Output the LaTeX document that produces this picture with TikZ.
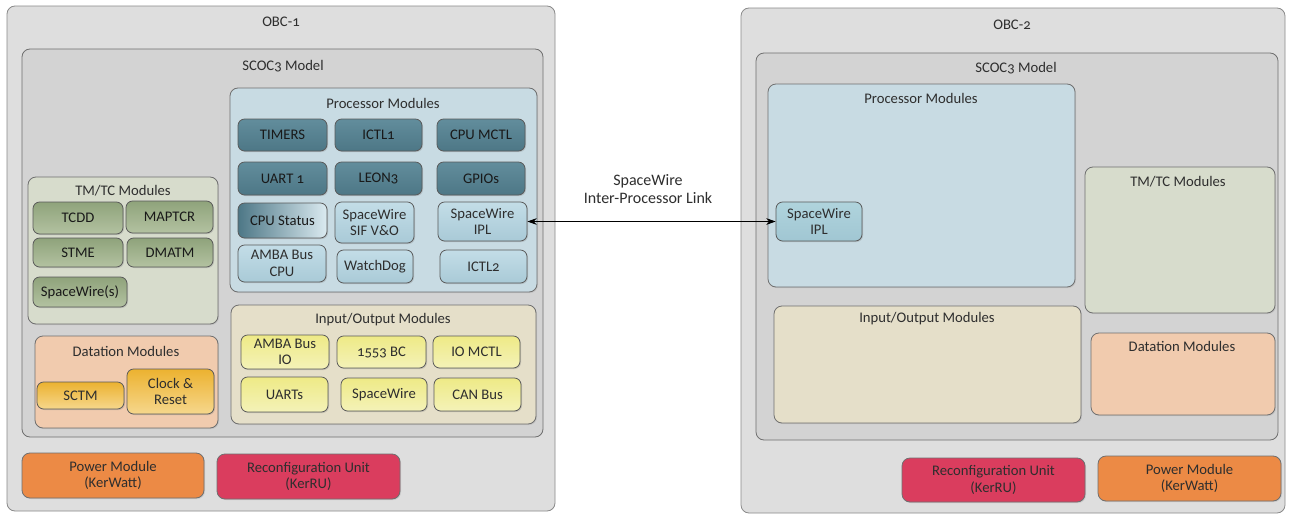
\documentclass[tikz,border=0pt]{standalone}
\usepackage{fontspec}
\setmainfont{Carlito}[Numbers=OldStyle]
\usetikzlibrary{shadows,arrows.meta}
\definecolor{obcfill}{HTML}{DEDEDE}
\definecolor{obcdraw}{HTML}{8A8A8A}
\definecolor{scocfill}{HTML}{D3D3D3}
\definecolor{procfill}{HTML}{C8DBE3}
\definecolor{tealtop}{HTML}{628D9C}
\definecolor{tealbot}{HTML}{4D7786}
\definecolor{lbtop}{HTML}{C3DDE7}
\definecolor{lbbot}{HTML}{A9CAD7}
\definecolor{tmtcfill}{HTML}{D7DCCC}
\definecolor{grntop}{HTML}{8FA37B}
\definecolor{grnbot}{HTML}{B3C2A1}
\definecolor{datfill}{HTML}{F1CBAE}
\definecolor{goldtop}{HTML}{ECB230}
\definecolor{goldbot}{HTML}{F6D78C}
\definecolor{iofill}{HTML}{E5DFC9}
\definecolor{yeltop}{HTML}{EEEA86}
\definecolor{yelbot}{HTML}{F4F2B8}
\definecolor{powfill}{HTML}{EC8A45}
\definecolor{recfill}{HTML}{DA3D5E}
\definecolor{txt}{HTML}{2E2E2E}
\definecolor{edge}{HTML}{6F6F6F}
\tikzset{
  base/.style={inner sep=0pt, align=center, font=\fontsize{11}{12.5}\selectfont, text=txt},
  obcbox/.style={base, draw=obcdraw, fill=obcfill, rounded corners=6pt, line width=0.6pt},
  scocbox/.style={base, draw=edge, fill=scocfill, rounded corners=6pt, line width=0.6pt},
  grp/.style={base, draw=edge, rounded corners=6pt, line width=0.6pt, drop shadow={opacity=0.2, shadow xshift=0.8pt, shadow yshift=-0.8pt}},
  mod/.style={base, draw=edge!80!black, rounded corners=5pt, line width=0.6pt, drop shadow={opacity=0.3, shadow xshift=0.8pt, shadow yshift=-0.8pt}},
  dark/.style={mod, top color=tealtop, bottom color=tealbot, text=black!90},
  light/.style={mod, top color=lbtop, bottom color=lbbot},
  green/.style={mod, top color=grntop, bottom color=grnbot, text=black!90},
  gold/.style={mod, top color=goldtop, bottom color=goldbot},
  yel/.style={mod, top color=yeltop, bottom color=yelbot},
  ttl/.style={base},
  link/.style={{Stealth[length=7pt,width=5pt]}-{Stealth[length=7pt,width=5pt]}, line width=0.6pt, black}
}
\newcommand\bx[7]{%
  \pgfmathsetmacro\bxw{(#4-#2)*0.75}%
  \pgfmathsetmacro\bxh{(#5-#3)*0.75}%
  \node[#6, minimum width=\bxw pt, minimum height=\bxh pt] (#1) at ({(#2+#4)/2},{(#3+#5)/2}) {#7};}
\begin{document}
\begin{tikzpicture}[x=0.75pt,y=-0.75pt]
\useasboundingbox[fill=white] (0,0) rectangle (1289,514);
% ---------------- OBC-1 ----------------
\bx{obc1}{7}{6}{555}{511}{obcbox}{}
\node[ttl] (obc1t) at (281,22) {OBC-1};
\bx{scoc1}{22}{49}{543}{437}{scocbox}{}
\node[ttl] (scoc1t) at (283,66) {SCOC3 Model};
% processor modules
\bx{proc1}{230}{88}{537}{292}{grp, fill=procfill}{}
\node[ttl] (proc1t) at (383,103) {Processor Modules};
\bx{timers}{238}{119}{327}{151}{dark}{TIMERS}
\bx{ictla}{335}{119}{422}{151}{dark}{ICTL1}
\bx{cpumctl}{437}{119}{525}{151}{dark}{CPU MCTL}
\bx{uarta}{238}{162}{327}{195}{dark}{UART 1}
\bx{leon}{335}{162}{422}{195}{dark}{LEON3}
\bx{gpios}{437}{162}{525}{195}{dark}{GPIOs}
\bx{cpustat}{238}{203}{327}{238}{mod, left color=tealbot, right color=lbtop!60!white, text=black!90}{CPU Status}
\bx{swsif}{335}{202}{414}{243}{light}{SpaceWire\\SIF V\&O}
\bx{swipla}{438}{202}{527}{241}{light}{SpaceWire\\IPL}
\bx{ambacpu}{238}{245}{326}{282}{light}{AMBA Bus\\CPU}
\bx{wdog}{337}{250}{413}{283}{light}{WatchDog}
\bx{ictlb}{440}{250}{527}{283}{light}{ICTL2}
% TM/TC modules
\bx{tmtc1}{28}{177}{218}{324}{grp, fill=tmtcfill}{}
\node[ttl] (tmtc1t) at (123,191) {TM/TC Modules};
\bx{tcdd}{33}{202}{123}{234}{green}{TCDD}
\bx{maptcr}{126}{201}{213}{233}{green}{MAPTCR}
\bx{stme}{33}{238}{123}{267}{green}{STME}
\bx{dmatm}{127}{238}{213}{267}{green}{DMATM}
\bx{sws}{33}{277}{127}{307}{green}{SpaceWire(s)}
% Datation modules
\bx{dat1}{35}{336}{218}{428}{grp, fill=datfill}{}
\node[ttl] (dat1t) at (126,351) {Datation Modules};
\bx{sctm}{37}{382}{124}{409}{gold}{SCTM}
\bx{clock}{127}{369}{214}{414}{gold}{Clock \&\\Reset}
% IO modules
\bx{io1}{231}{305}{536}{424}{grp, fill=iofill}{}
\node[ttl] (io1t) at (383,320) {Input/Output Modules};
\bx{ambaio}{241}{335}{329}{369}{yel}{AMBA Bus\\IO}
\bx{bc}{337}{336}{426}{368}{yel}{1553 BC}
\bx{iomctl}{433}{336}{520}{368}{yel}{IO MCTL}
\bx{uarts}{241}{377}{328}{412}{yel}{UARTs}
\bx{sw}{341}{378}{427}{411}{yel}{SpaceWire}
\bx{can}{434}{378}{521}{411}{yel}{CAN Bus}
% bottom
\bx{pow1}{22}{453}{204}{498}{grp, fill=powfill}{Power Module\\(KerWatt)}
\bx{rec1}{217}{454}{400}{499}{grp, fill=recfill}{Reconfiguration Unit\\(KerRU)}
% ---------------- OBC-2 ----------------
\bx{obc2}{741}{8}{1285}{513}{obcbox}{}
\node[ttl] (obc2t) at (1012,25) {OBC-2};
\bx{scoc2}{756}{53}{1278}{440}{scocbox}{}
\node[ttl] (scoc2t) at (1016,68) {SCOC3 Model};
\bx{proc2}{768}{84}{1075}{287}{grp, fill=procfill}{}
\node[ttl] (proc2t) at (921,98) {Processor Modules};
\bx{swiplb}{776}{202}{862}{241}{mod, top color=lbtop!90!teal, bottom color=lbbot!95!teal}{SpaceWire\\IPL}
\bx{tmtc2}{1085}{167}{1275}{313}{grp, fill=tmtcfill}{}
\node[ttl] (tmtc2t) at (1178,182) {TM/TC Modules};
\bx{io2}{774}{306}{1081}{423}{grp, fill=iofill}{}
\node[ttl] (io2t) at (927,319) {Input/Output Modules};
\bx{dat2}{1091}{333}{1275}{415}{grp, fill=datfill}{}
\node[ttl] (dat2t) at (1182,346) {Datation Modules};
\bx{rec2}{902}{458}{1085}{502}{grp, fill=recfill}{Reconfiguration Unit\\(KerRU)}
\bx{pow2}{1098}{456}{1281}{501}{grp, fill=powfill}{Power Module\\(KerWatt)}
% ---------------- link ----------------
\draw[link] (swipla.east) -- (swiplb.west);
\node[base, font=\fontsize{12}{14}\selectfont] (linklbl) at (648,189) {SpaceWire\\Inter-Processor Link};
\end{tikzpicture}
\end{document}
